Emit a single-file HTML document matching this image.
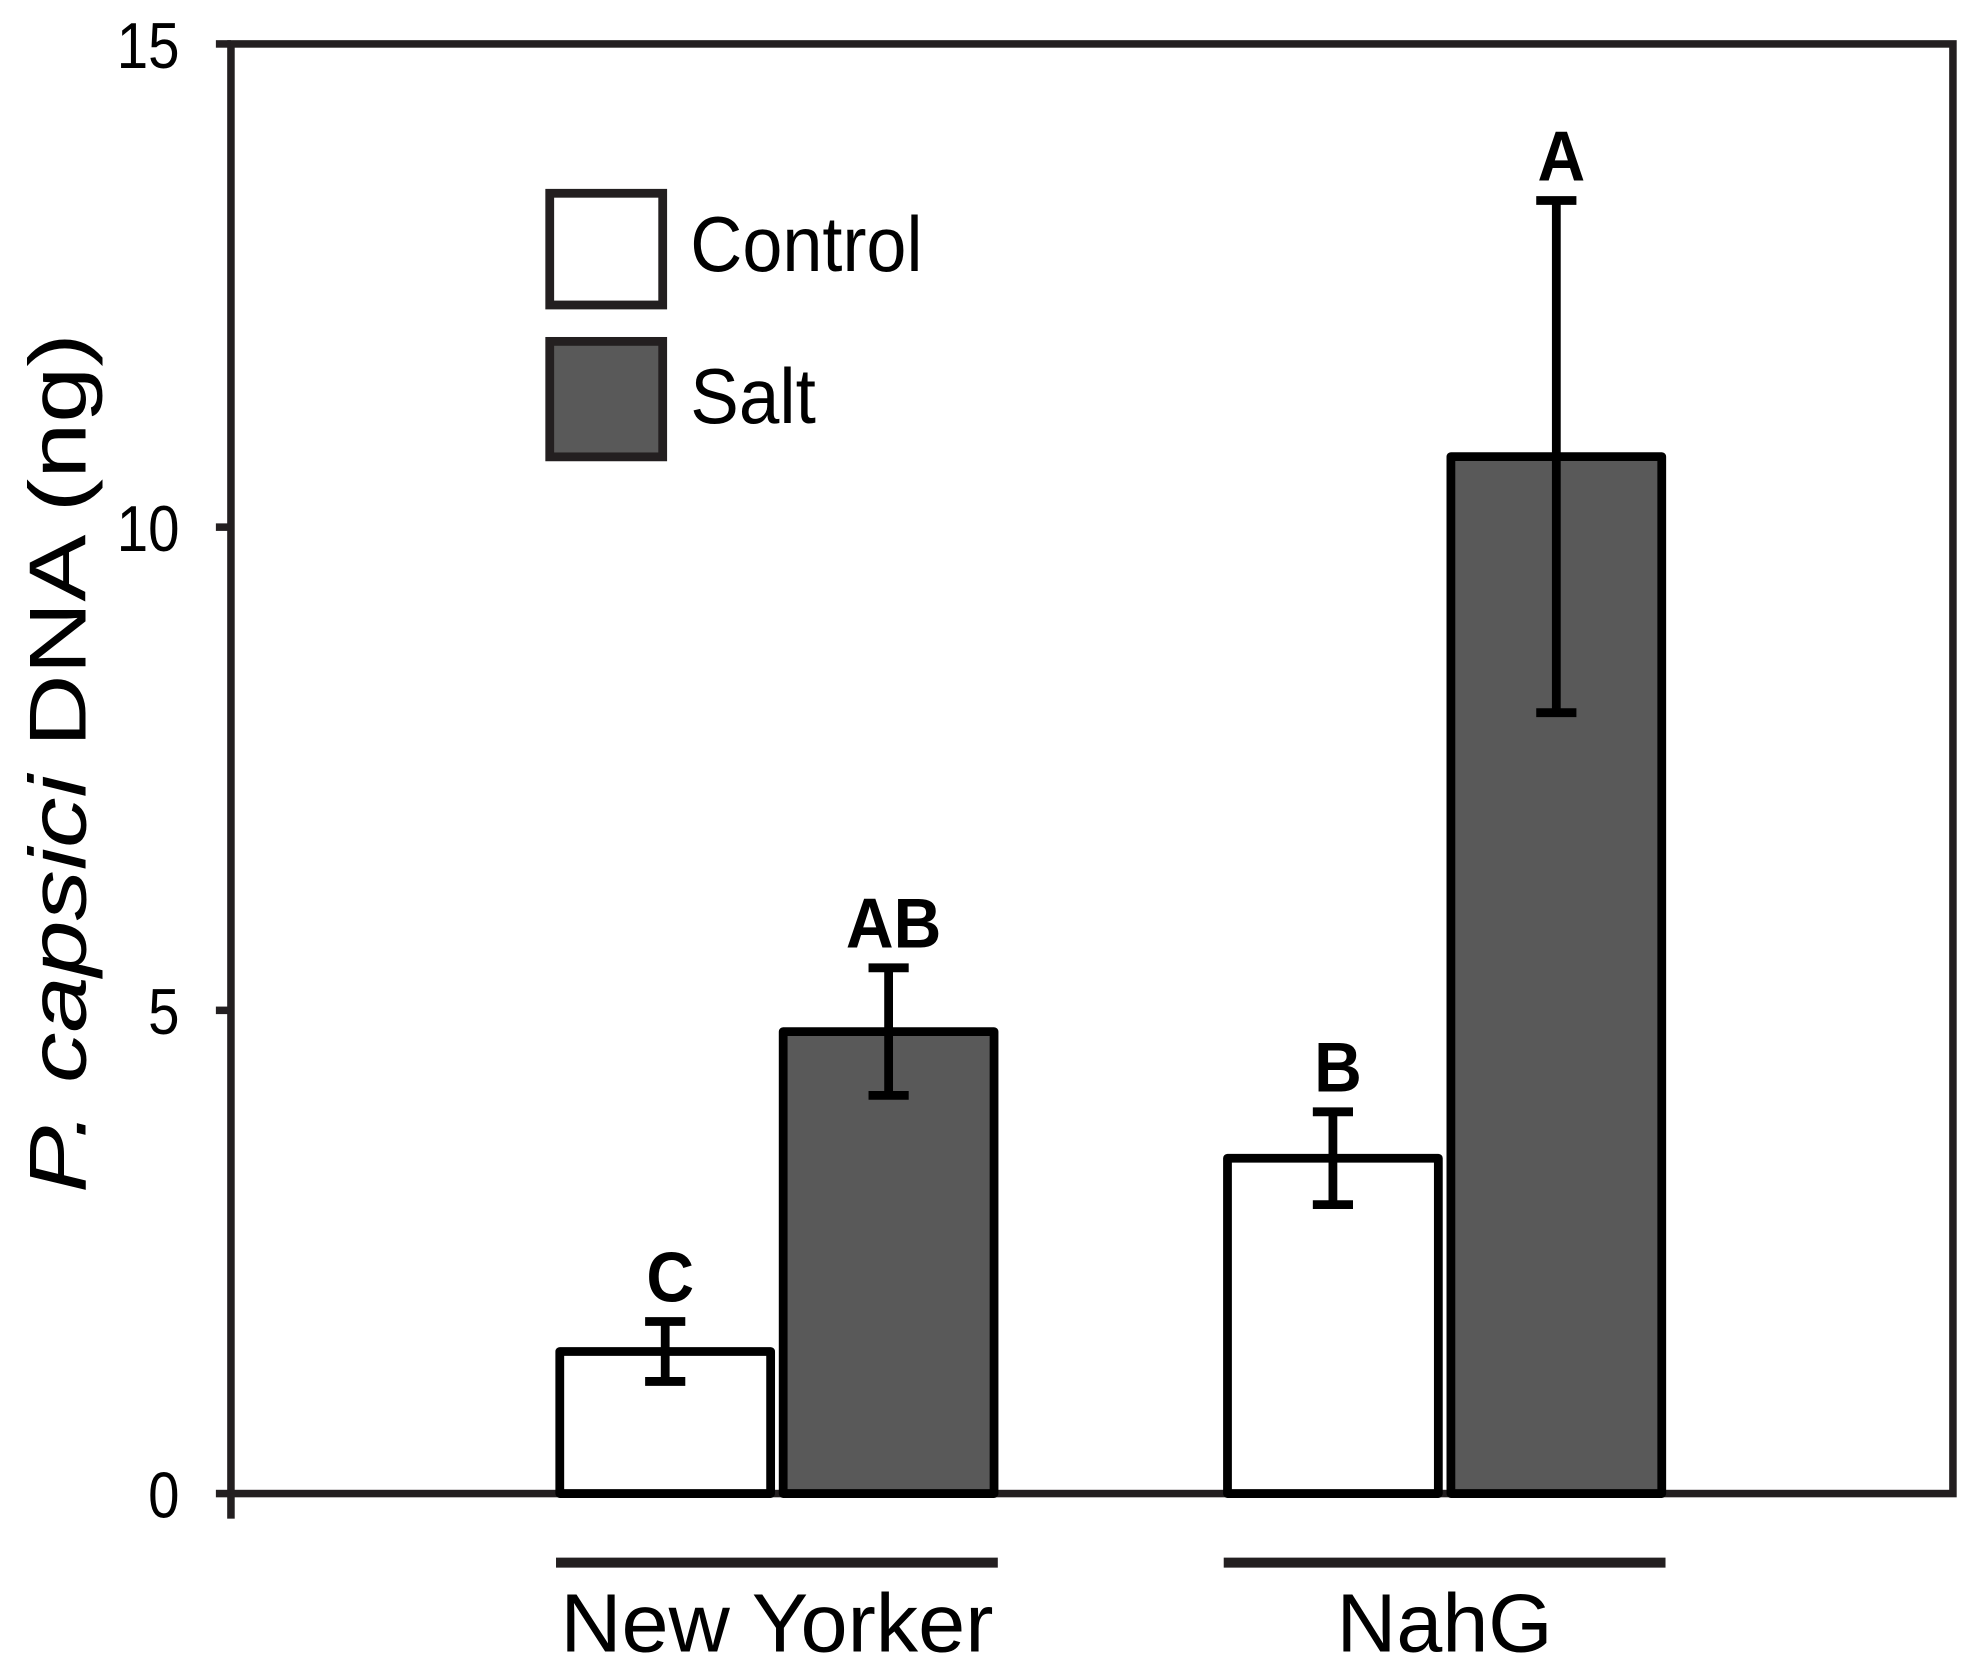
<!DOCTYPE html>
<html><head><meta charset="utf-8"><style>
html,body{margin:0;padding:0;background:#fff}
svg{display:block}
text{font-family:"Liberation Sans",sans-serif;fill:#000}
</style></head><body>
<svg id="chart" width="1968" height="1664" viewBox="0 0 1568 1325.8" xmlns="http://www.w3.org/2000/svg">
<g id="axes"></g>
<g id="bars"></g>
<g>
<rect x="438" y="154" width="90" height="89" fill="#fff" stroke="#231f20" stroke-width="7"/>
<text x="550" y="216" font-size="62" textLength="185" lengthAdjust="spacingAndGlyphs">Control</text>
<rect x="438" y="272" width="90" height="92" fill="#595959" stroke="#231f20" stroke-width="7"/>
<text x="550" y="337" font-size="62" textLength="100" lengthAdjust="spacingAndGlyphs">Salt</text>
</g>
<text transform="translate(68,608) rotate(-90)" text-anchor="middle" font-size="64" textLength="685" lengthAdjust="spacingAndGlyphs"><tspan font-style="italic">P. capsici</tspan> DNA (ng)</text>
</svg>
<script>
const categories = ["New Yorker", "NahG"];
const seriesNames = ["Control", "Salt"];
const controlValues = [1.47, 3.47];
const saltValues = [4.78, 10.73];
const controlErrors = [0.31, 0.48];
const saltErrors = [0.66, 2.65];
const controlLetters = ["C", "B"];
const saltLetters = ["AB", "A"];
const yTicks = [0, 5, 10, 15];

const NS = "http://www.w3.org/2000/svg";
const X0 = 184, X1 = 1556, Y0 = 1190, YTOP = 35, YMAX = 15;
const groupStart = [443, 975], barW = 174, gap = 4;
function y(v){ return Y0 - (v / YMAX) * (Y0 - YTOP); }
function el(tag, attrs, parent){ const e = document.createElementNS(NS, tag); for (const k in attrs) e.setAttribute(k, attrs[k]); parent.appendChild(e); return e; }
const axes = document.getElementById('axes');
const bars = document.getElementById('bars');

const frame = el('rect', {x:X0, y:YTOP, width:X1-X0, height:Y0-YTOP, fill:'none', stroke:'#231f20', 'stroke-width':6}, axes);


const yext = el('line', {x1:X0, x2:X0, y1:Y0, y2:Y0+20, stroke:'#231f20', 'stroke-width':6}, axes);



yTicks.forEach(t => {
  const tk = el('line', {x1:X0-12, x2:X0, y1:y(t), y2:y(t), stroke:'#231f20', 'stroke-width':6}, axes);
  
  
  const lb = el('text', {x:143, y:y(t)+19, 'text-anchor':'end', 'font-size':52}, axes);
  lb.textContent = t;
  lb.setAttribute('textLength', String(t).length * 25);
  lb.setAttribute('lengthAdjust', 'spacingAndGlyphs');
  
  
});

function drawBar(x, v, e, fill, letter, nm){
  const r = el('rect', {x:x+3, y:y(v), width:barW-6, height:Y0-y(v), fill:fill, stroke:'#000', 'stroke-width':7, 'stroke-linejoin':'round'}, bars);
  
  
  const cx = x + barW/2;
  const g = el('g', {stroke:'#000', 'stroke-width':7}, bars);
  
  
  el('line', {x1:cx, x2:cx, y1:y(v+e), y2:y(v-e)}, g);
  el('line', {x1:cx-16, x2:cx+16, y1:y(v+e), y2:y(v+e)}, g);
  el('line', {x1:cx-16, x2:cx+16, y1:y(v-e), y2:y(v-e)}, g);
  const t = el('text', {x:cx+4, y:y(v+e)-16, 'text-anchor':'middle', 'font-size':56, 'font-weight':'bold'}, bars);
  t.textContent = letter;
  t.setAttribute('textLength', letter.length * 38);
  t.setAttribute('lengthAdjust', 'spacingAndGlyphs');
  
  
}
categories.forEach((c, i) => {
  drawBar(groupStart[i], controlValues[i], controlErrors[i], '#fff', controlLetters[i], 'bar-control-' + i);
  drawBar(groupStart[i] + barW + gap, saltValues[i], saltErrors[i], '#595959', saltLetters[i], 'bar-salt-' + i);
  const gx = groupStart[i], gw = 2*barW + gap;
  const ln = el('line', {x1:gx, x2:gx+gw, y1:1245, y2:1245, stroke:'#231f20', 'stroke-width':8}, axes);
  
  
  const lb = el('text', {x:gx+gw/2, y:1316, 'text-anchor':'middle', 'font-size':66}, axes);
  lb.textContent = c;
  lb.setAttribute('textLength', i === 0 ? 345 : 172);
  lb.setAttribute('lengthAdjust', 'spacingAndGlyphs');
  
  
});
</script>
</body></html>
